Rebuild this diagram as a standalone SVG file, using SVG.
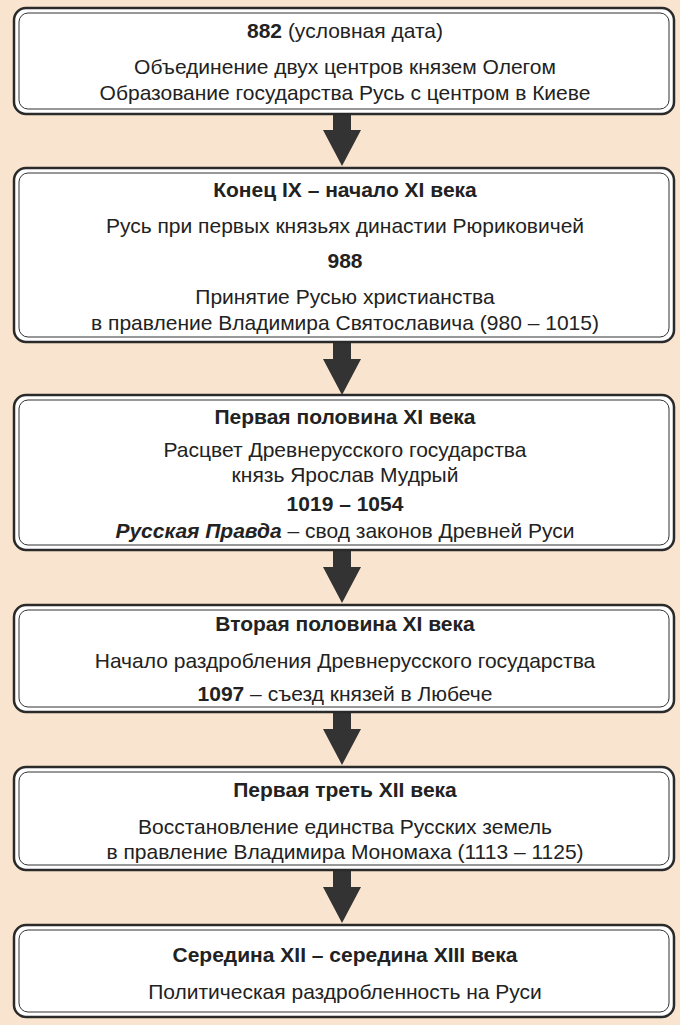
<svg xmlns="http://www.w3.org/2000/svg" width="680" height="1025" viewBox="0 0 680 1025">
<style>
.o{fill:#fff;stroke:#2a2a2a;stroke-width:2.5}
.i{fill:none;stroke:#333;stroke-width:1}
text{font-family:"Liberation Sans",Arial,sans-serif;font-size:21px;fill:#222;text-anchor:middle}
.b{font-weight:bold}
.a{fill:#333}
</style>
<rect width="680" height="1025" fill="#f9e4cf"/>
<defs><path id="arr" class="a" d="M-9,0 H9 V17 H19 L0,53 L-19,17 H-9 Z"/></defs>
<g id="connectors">
<use href="#arr" x="342" y="113"/>
<use href="#arr" x="342" y="342"/>
<use href="#arr" x="342" y="550"/>
<use href="#arr" x="342" y="712"/>
<use href="#arr" x="342" y="870"/>
</g>
<g id="n1"><rect class="o" x="14" y="8" width="660" height="106" rx="12"/><rect class="i" x="19" y="13" width="650" height="96" rx="9"/>
<text x="345" y="38"><tspan class="b">882</tspan> (условная дата)</text>
<text x="345" y="74">Объединение двух центров князем Олегом</text>
<text x="345" y="100">Образование государства Русь с центром в Киеве</text></g>
<g id="n2"><rect class="o" x="14" y="168" width="660" height="174" rx="12"/><rect class="i" x="19" y="173" width="650" height="164" rx="9"/>
<text class="b" x="345" y="197">Конец IX – начало XI века</text>
<text x="345" y="233">Русь при первых князьях династии Рюриковичей</text>
<text class="b" x="345" y="268">988</text>
<text x="345" y="304">Принятие Русью христианства</text>
<text x="345" y="330">в правление Владимира Святославича (980 – 1015)</text></g>
<g id="n3"><rect class="o" x="14" y="395" width="660" height="155" rx="12"/><rect class="i" x="19" y="400" width="650" height="145" rx="9"/>
<text class="b" x="345" y="424">Первая половина XI века</text>
<text x="345" y="457">Расцвет Древнерусского государства</text>
<text x="345" y="482">князь Ярослав Мудрый</text>
<text class="b" x="345" y="511">1019 – 1054</text>
<text x="345" y="538"><tspan class="b" font-style="italic">Русская Правда</tspan> – свод законов Древней Руси</text></g>
<g id="n4"><rect class="o" x="14" y="605" width="660" height="107" rx="12"/><rect class="i" x="19" y="610" width="650" height="97" rx="9"/>
<text class="b" x="345" y="631">Вторая половина XI века</text>
<text x="345" y="668">Начало раздробления Древнерусского государства</text>
<text x="345" y="701"><tspan class="b">1097</tspan> – съезд князей в Любече</text></g>
<g id="n5"><rect class="o" x="14" y="767" width="660" height="103" rx="12"/><rect class="i" x="19" y="772" width="650" height="93" rx="9"/>
<text class="b" x="345" y="797">Первая треть XII века</text>
<text x="345" y="834">Восстановление единства Русских земель</text>
<text x="345" y="859">в правление Владимира Мономаха (1113 – 1125)</text></g>
<g id="n6"><rect class="o" x="14" y="925" width="660" height="92" rx="12"/><rect class="i" x="19" y="930" width="650" height="82" rx="9"/>
<text class="b" x="345" y="962">Середина XII – середина XIII века</text>
<text x="345" y="999">Политическая раздробленность на Руси</text></g>
</svg>
